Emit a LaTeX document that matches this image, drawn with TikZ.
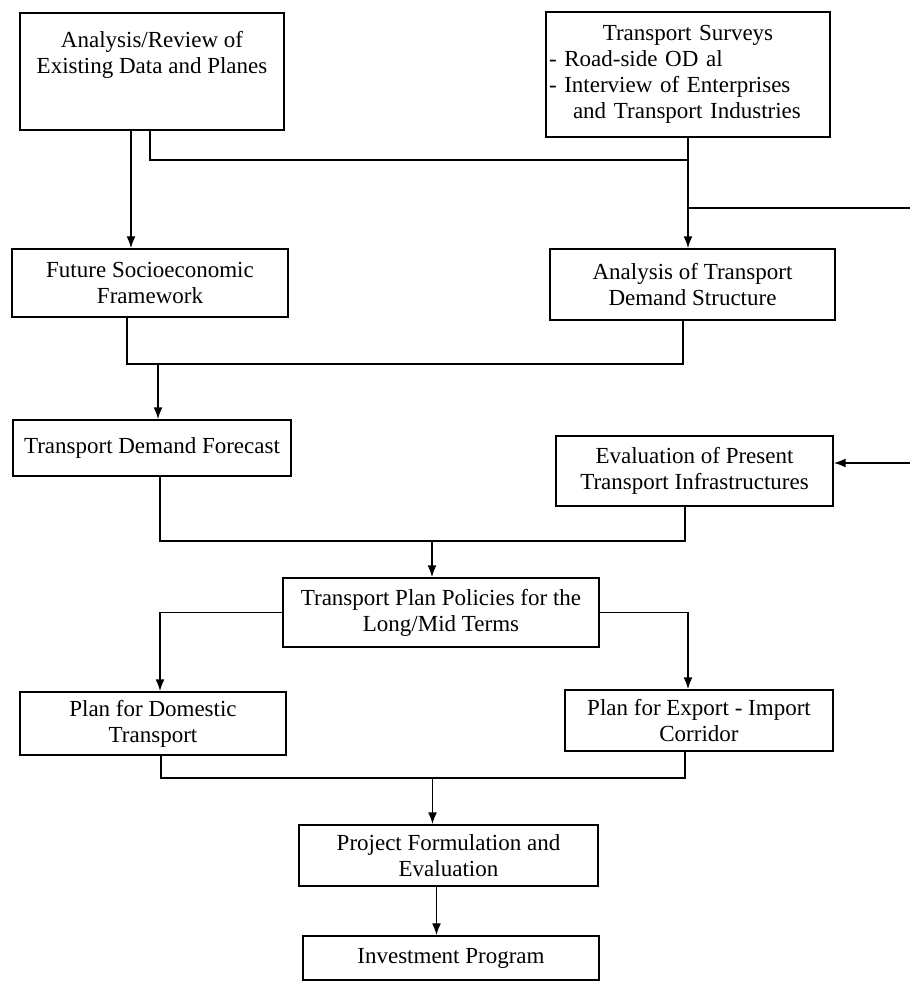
\documentclass[tikz,border=0pt]{standalone}
\usepackage{fontspec}
\setmainfont{Liberation Serif}
\usepackage{tikz}
\usetikzlibrary{arrows.meta}

\begin{document}
\begin{tikzpicture}[x=1pt,y=1pt,
		box/.style={draw, line width=0.7pt, align=center, inner sep=1pt, font=\fontsize{11.5}{13}\selectfont},
		link/.style={line width=0.9pt},
		>={Latex[length=6pt,width=4.5pt]}]
		\useasboundingbox (0,0) rectangle (455,-490.5);
		% boxes
		\node[box, minimum width=132pt, minimum height=58.5pt] (ar) at (76,-35.75) {Analysis/Review of\\ Existing Data and Planes\\[6pt]};
		\node[box, minimum width=142pt, minimum height=62.5pt, text width=139pt, align=left] (ts) at (344,-37.25)
			{{\centering Transport Surveys\par}- Road-side OD al\\ - Interview of Enterprises\\ \hspace*{12pt}and Transport Industries};
		\node[box, minimum width=138pt, minimum height=34pt] (fs) at (75,-141.5) {Future Socioeconomic\\ Framework};
		\node[box, minimum width=142.5pt, minimum height=35.5pt] (ads) at (346.25,-142.25) {Analysis of Transport\\ Demand Structure};
		\node[box, minimum width=139pt, minimum height=28pt] (tdf) at (76,-224) {Transport Demand Forecast};
		\node[box, minimum width=138.5pt, minimum height=35pt] (epi) at (347.25,-235.5) {Evaluation of Present\\ Transport Infrastructures};
		\node[box, minimum width=158pt, minimum height=34.5pt] (tpp) at (220.5,-306.25) {Transport Plan Policies for the\\ Long/Mid Terms};
		\node[box, minimum width=133pt, minimum height=31.5pt] (dom) at (76.5,-361.75) {Plan for Domestic\\ Transport};
		\node[box, minimum width=134pt, minimum height=30.5pt] (exp) at (349.5,-360.25) {Plan for Export - Import\\ Corridor};
		\node[box, minimum width=149.5pt, minimum height=30.5pt] (pfe) at (224.25,-427.75) {Project Formulation and\\ Evaluation};
		\node[box, minimum width=148pt, minimum height=22pt] (inv) at (225.5,-479) {Investment Program};
		% free ends at the right edge
		\coordinate (rt) at (455,-104);
		\coordinate (re) at (455,-231.5);
		% feet of the bus lines
		\coordinate (adsf) at ([xshift=-4.75pt]ads.south);
		\coordinate (epif) at ([xshift=-4.75pt]epi.south);
		\coordinate (expf) at ([xshift=-7pt]exp.south);
		% connectors
		\draw[link,->] (ar.south) ++(-10.5,0) coordinate (a1) -- (a1 |- fs.north);
		\draw[link] (ar.south) ++(-1,0) -- ++(0,-14.5) coordinate (a2) -- (a2 -| ts.south);
		\draw[link,->] (ts.south) -- (ts.south |- ads.north);
		\draw[link] (rt -| ts.south) -- (rt);
		\draw[link] (fs.south) ++(-11.5,0) -- ++(0,-23) coordinate (b1) -- (b1 -| adsf) -- (adsf);
		\draw[link,->] (b1 -| tdf.north) ++(3,0) coordinate (b1a) -- (b1a |- tdf.north);
		\draw[link,->] (re) -- (re -| epi.east);
		\draw[link] (tdf.south) ++(4,0) -- ++(0,-32) coordinate (b2) -- (b2 -| epif) -- (epif);
		\draw[link,->] (b2 -| tpp.north) ++(-4.5,0) coordinate (b2a) -- (b2a |- tpp.north);
		\draw[link,->] (tpp.west) -| ([xshift=3.5pt]dom.north);
		\draw[link,->] (tpp.east) -| ([xshift=-5.5pt]exp.north);
		\draw[link] (dom.south) ++(4,0) -- ++(0,-11) coordinate (b3) -- (b3 -| expf) -- (expf);
		\draw[link,->] (b3 -| pfe.north) ++(-8,0) coordinate (b3b) -- (b3b |- pfe.north);
		\draw[link,->] ([xshift=-6pt]pfe.south) coordinate (j2) -- (j2 |- inv.north);
\end{tikzpicture}
\end{document}
